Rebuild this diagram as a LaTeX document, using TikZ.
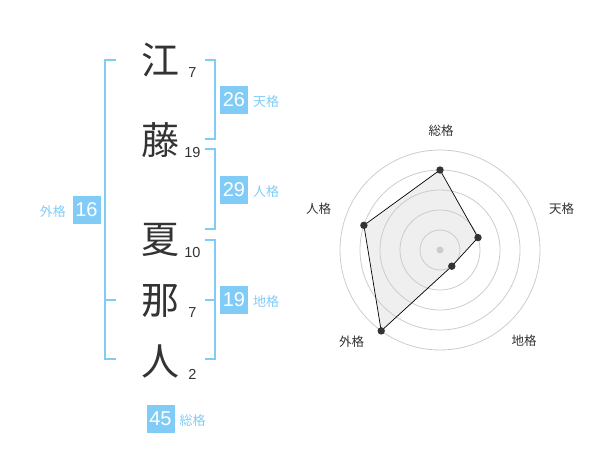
\documentclass[tikz,border=0pt]{standalone}
\usepackage{fontspec}
\setmainfont{Liberation Sans}
\newfontfamily\jp{Noto Sans CJK JP}
\definecolor{kblue}{HTML}{80CCF7}
\definecolor{ktext}{HTML}{333333}
\definecolor{ringc}{HTML}{CCCCCC}
\definecolor{polyfill}{HTML}{EFEFEF}
\begin{document}
\begin{tikzpicture}[x=1pt,y=-1pt,
  kanji/.style={font=\jp\fontsize{38}{38}\selectfont, text=ktext, inner sep=0pt},
  strokes/.style={font=\fontsize{14.5}{14.5}\selectfont, text=ktext, inner sep=0pt},
  numbox/.style={fill=kblue, text=white, minimum width=28pt, minimum height=28pt, inner sep=0pt, font=\fontsize{20}{20}\selectfont},
  kaku/.style={font=\jp\fontsize{13}{13}\selectfont, text=kblue, inner sep=0pt},
  bracket/.style={draw=kblue, line width=2pt},
  ringline/.style={draw=ringc, line width=0.8pt},
  axislabel/.style={font=\jp\fontsize{12.5}{12.5}\selectfont, text=ktext, inner sep=0pt},
  dot/.style={circle, fill=ktext, inner sep=0pt, minimum size=7.4pt}]
\useasboundingbox (0,0) rectangle (600,470);

% characters
\node[kanji] (k1) at (160,60) {江};
\node[kanji] (k2) at (160,140) {藤};
\node[kanji] (k3) at (160,240) {夏};
\node[kanji] (k4) at (160,301) {那};
\node[kanji] (k5) at (160,361) {人};
\node[strokes] (s1) at (192.5,72.5) {7};
\node[strokes] (s2) at (192.5,152.5) {19};
\node[strokes] (s3) at (192.5,252.5) {10};
\node[strokes] (s4) at (192.5,312.5) {7};
\node[strokes] (s5) at (192.5,374) {2};

% brackets
\draw[bracket] (116,60) -- (105,60) -- (105,359.5) -- (116,359.5);
\draw[bracket] (105,300) -- (116,300);
\draw[bracket] (205,60) -- (214.5,60) -- (214.5,139.5) -- (205,139.5);
\draw[bracket] (205,149.5) -- (214.5,149.5) -- (214.5,229.5) -- (205,229.5);
\draw[bracket] (205,240) -- (214.5,240) -- (214.5,359.5) -- (205,359.5);
\draw[bracket] (205,300) -- (214.5,300);

% result boxes
\node[numbox] (ten) at (234,100) {26};
\node[kaku, anchor=west] (tenl) at (253,102) {天格};
\node[numbox] (jin) at (234,190) {29};
\node[kaku, anchor=west] (jinl) at (253,192) {人格};
\node[numbox] (chi) at (234,300) {19};
\node[kaku, anchor=west] (chil) at (253,302) {地格};
\node[numbox] (gai) at (86.5,210) {16};
\node[kaku, anchor=east] (gail) at (66,212) {外格};
\node[numbox] (sou) at (160.5,419) {45};
\node[kaku, anchor=west] (soul) at (179.5,421) {総格};

% radar
\coordinate (c) at (440,250);
\coordinate (p1) at (440,170);
\coordinate (p2) at (478.0,237.6);
\coordinate (p3) at (451.8,266.2);
\coordinate (p4) at (381.2,330.9);
\coordinate (p5) at (363.9,225.3);
\fill[polyfill] (p1) -- (p2) -- (p3) -- (p4) -- (p5) -- cycle;
\foreach \r in {20,40,60,80,100} {
  \draw[ringline] (c) circle[radius=\r pt];
}
\draw[black, line width=0.7pt] (p1) -- (p2) -- (p3) -- (p4) -- (p5) -- cycle;
\node[circle, fill=ringc, inner sep=0pt, minimum size=7pt] (cdot) at (c) {};
\foreach \p in {p1,p2,p3,p4,p5} {
  \node[dot] at (\p) {};
}
\node[axislabel] (a1) at (441,130.5) {総格};
\node[axislabel] (a2) at (561.5,208.5) {天格};
\node[axislabel] (a3) at (524,341) {地格};
\node[axislabel] (a4) at (351.5,341.5) {外格};
\node[axislabel] (a5) at (318.5,208.5) {人格};
\end{tikzpicture}
\end{document}
